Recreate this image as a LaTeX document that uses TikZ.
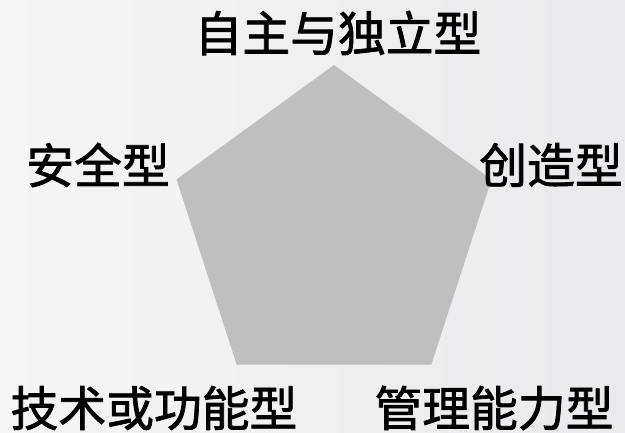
\documentclass[tikz,border=0pt]{standalone}
\usepackage{fontspec}
\newfontfamily\cjk[FakeBold=1.6]{Noto Sans CJK SC}
\usetikzlibrary{calc}

\definecolor{bgleft}{RGB}{246,246,246}
\definecolor{bgright}{RGB}{234,234,236}
\definecolor{pentfill}{RGB}{191,191,191}

\begin{document}
\begin{tikzpicture}[%
            anchors/.style={inner sep=0pt, outer sep=0pt},
            typ/.style={anchors, font=\cjk\fontsize{34}{36}\selectfont, text=black}
            ]
            \useasboundingbox (0,0) rectangle (15.625,10.8);
            \shade[left color=bgleft, right color=bgright] (0,0) rectangle (15.625,10.8);

            \coordinate (c) at (8.35,5.035);
            \foreach \i in {0,...,4}
                \coordinate (v\i) at ($(c)+(90+72*\i:4.14)$);
            \fill[pentfill] (v0) -- (v1) -- (v2) -- (v3) -- (v4) -- cycle;

            \node[typ] (zizhu) at (8.45,9.975) {自主与独立型};
            \node[typ] (anquan) at (2.45,6.675) {安全型};
            \node[typ] (chuangzao) at (13.775,6.675) {创造型};
            \node[typ] (jishu) at (3.85,0.6) {技术或功能型};
            \node[typ] (guanli) at (12.35,0.6) {管理能力型};
        \end{tikzpicture}
\end{document}
